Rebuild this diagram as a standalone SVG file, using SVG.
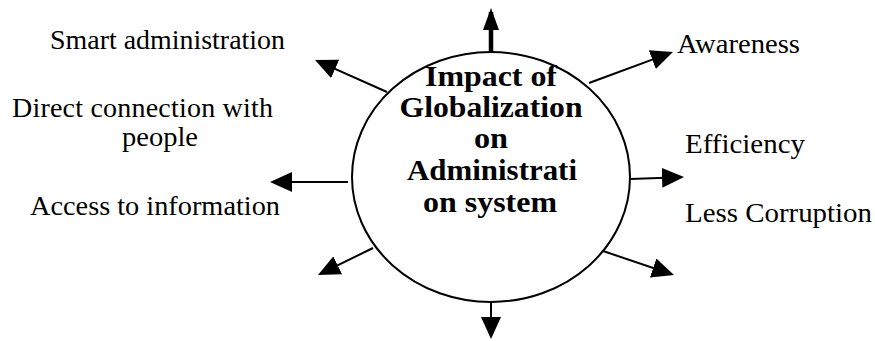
<svg xmlns="http://www.w3.org/2000/svg" width="875" height="341" viewBox="0 0 875 341">
  <style>
    text { font-family: 'Liberation Serif', 'Times New Roman', serif; fill: #000; }
    .lbl { font-size: 28px; }
    .ctr { font-size: 30px; font-weight: bold; text-anchor: middle; }
    .con { stroke: #000; stroke-width: 2; fill: none; }
    .thick { stroke-width: 4.5; }
  </style>
  <defs>
    <marker id="head" markerUnits="userSpaceOnUse" markerWidth="22" markerHeight="20" refX="18" refY="10" orient="auto" viewBox="0 0 22 20">
      <path d="M0,0 L22,10 L0,20 Z" fill="#000"/>
    </marker>
    <marker id="headN" markerUnits="userSpaceOnUse" markerWidth="22" markerHeight="16" refX="18" refY="8" orient="auto" viewBox="0 0 22 16">
      <path d="M0,0 L22,8 L0,16 Z" fill="#000"/>
    </marker>
  </defs>
  <rect width="875" height="341" fill="#fff"/>

  <g id="connectors">
    <line class="con thick" x1="491" y1="53" x2="491" y2="12" marker-end="url(#headN)"/>
    <line class="con" x1="589" y1="83" x2="669.2" y2="53.4" marker-end="url(#head)"/>
    <line class="con" x1="630" y1="179" x2="680" y2="177.2" marker-end="url(#head)"/>
    <line class="con" x1="603" y1="251" x2="670.2" y2="273.7" marker-end="url(#head)"/>
    <line class="con" x1="491" y1="302" x2="491" y2="335" marker-end="url(#head)"/>
    <line class="con" x1="373" y1="248" x2="321.6" y2="273.2" marker-end="url(#head)"/>
    <line class="con" x1="348" y1="182" x2="274" y2="182" marker-end="url(#head)"/>
    <line class="con" x1="387" y1="92" x2="318.7" y2="61.6" marker-end="url(#head)"/>
  </g>

  <g id="center">
    <ellipse cx="491" cy="177" rx="139" ry="125" fill="none" stroke="#000" stroke-width="2"/>
    <text class="ctr" x="491" y="86" textLength="132" lengthAdjust="spacingAndGlyphs">Impact of</text>
    <text class="ctr" x="491" y="117" textLength="183" lengthAdjust="spacingAndGlyphs">Globalization</text>
    <text class="ctr" x="491" y="148" textLength="34" lengthAdjust="spacingAndGlyphs">on</text>
    <text class="ctr" x="492" y="180" textLength="170" lengthAdjust="spacingAndGlyphs">Administrati</text>
    <text class="ctr" x="490" y="212" textLength="134" lengthAdjust="spacingAndGlyphs">on system</text>
  </g>

  <g id="smart-administration">
    <text class="lbl" x="50" y="49" textLength="235" lengthAdjust="spacingAndGlyphs">Smart administration</text>
  </g>
  <g id="direct-connection">
    <text class="lbl" x="12" y="117" textLength="261" lengthAdjust="spacing">Direct connection with</text>
    <text class="lbl" x="122" y="146" textLength="76" lengthAdjust="spacingAndGlyphs">people</text>
  </g>
  <g id="access-to-information">
    <text class="lbl" x="30" y="215" textLength="250" lengthAdjust="spacingAndGlyphs">Access to information</text>
  </g>
  <g id="awareness">
    <text class="lbl" x="677" y="53" textLength="123" lengthAdjust="spacingAndGlyphs">Awareness</text>
  </g>
  <g id="efficiency">
    <text class="lbl" x="685" y="153" textLength="120" lengthAdjust="spacingAndGlyphs">Efficiency</text>
  </g>
  <g id="less-corruption">
    <text class="lbl" x="685" y="222" textLength="187" lengthAdjust="spacingAndGlyphs">Less Corruption</text>
  </g>
</svg>
